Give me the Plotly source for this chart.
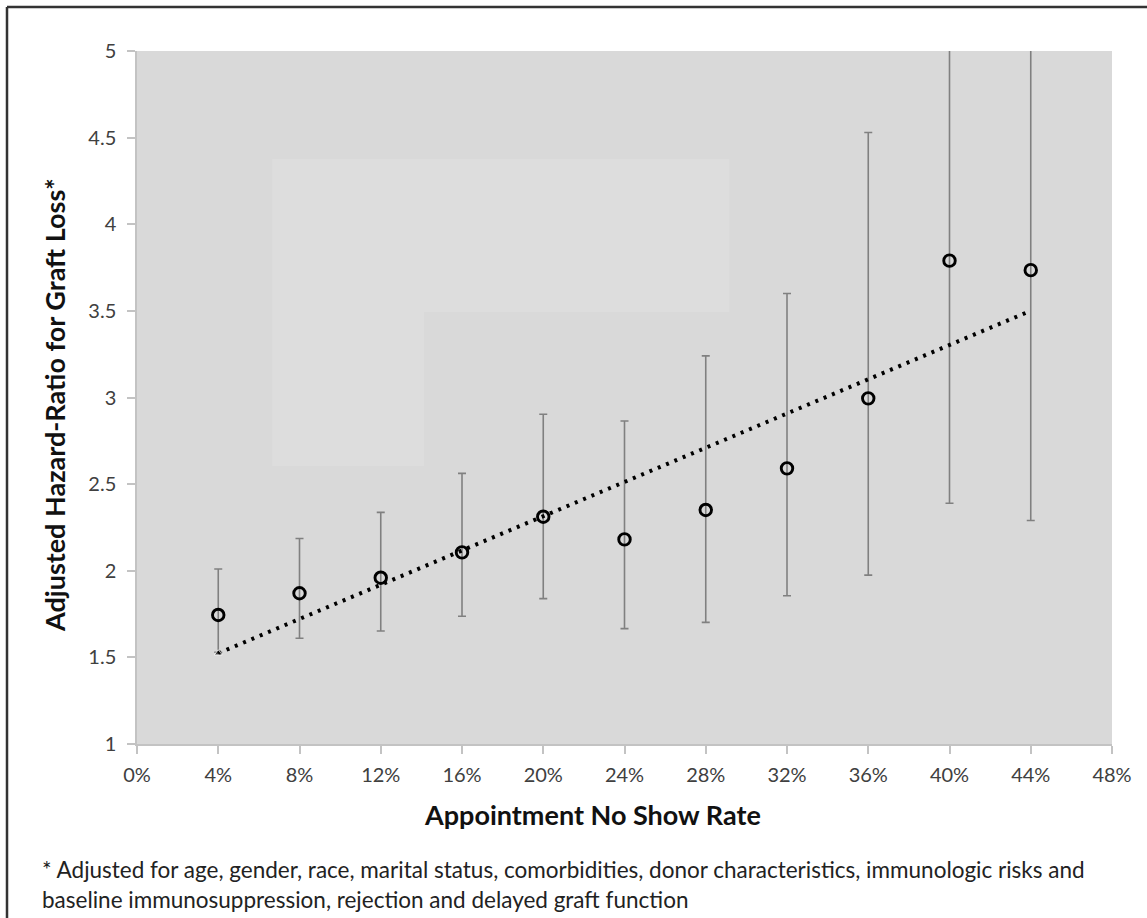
import numpy as np
import plotly.graph_objects as go

# ---- data ----
no_show_rate = [0.04, 0.08, 0.12, 0.16, 0.20, 0.24, 0.28, 0.32, 0.36, 0.40, 0.44]
hazard_ratio = [1.745, 1.870, 1.960, 2.106, 2.312, 2.181, 2.351, 2.591, 2.995, 3.790, 3.735]
ci_upper = [2.010, 2.186, 2.337, 2.562, 2.903, 2.864, 3.240, 3.600, 4.530, 6.000, 6.070]
ci_lower = [1.530, 1.610, 1.652, 1.737, 1.839, 1.666, 1.702, 1.856, 1.975, 2.390, 2.290]
x_tick_vals = [0.00, 0.04, 0.08, 0.12, 0.16, 0.20, 0.24, 0.28, 0.32, 0.36, 0.40, 0.44, 0.48]
y_tick_vals = [1, 1.5, 2, 2.5, 3, 3.5, 4, 4.5, 5]

x_title = "Appointment No Show Rate"
y_title = "Adjusted Hazard-Ratio for Graft Loss*"
footnote_1 = "* Adjusted for age, gender, race, marital status, comorbidities, donor characteristics, immunologic risks and"
footnote_2 = "baseline immunosuppression, rejection and delayed graft function"

# linear trendline (least squares) through the points
slope, intercept = np.polyfit(no_show_rate, hazard_ratio, 1)
trend_x = [no_show_rate[0], no_show_rate[-1]]
trend_y = [slope * v + intercept for v in trend_x]

err_plus = [u - h for u, h in zip(ci_upper, hazard_ratio)]
err_minus = [h - l for h, l in zip(hazard_ratio, ci_lower)]

# ---- layout geometry (pixels) ----
W, H = 1147, 918
L, R, T, B = 137, 35, 51, 174
pw, ph = W - L - R, H - T - B


def px(xp):
    return (xp - L) / pw


def py(yp):
    return (H - B - yp) / ph


fig = go.Figure()

fig.add_trace(go.Scatter(
    x=no_show_rate, y=hazard_ratio, mode="markers",
    marker=dict(symbol="circle-open", size=11.5, color="black", line=dict(width=2.9, color="black")),
    error_y=dict(type="data", symmetric=False, array=err_plus, arrayminus=err_minus,
                 color="#808080", thickness=1.6, width=4),
    showlegend=False, hoverinfo="skip",
))

fig.add_trace(go.Scatter(
    x=trend_x, y=trend_y, mode="lines+markers",
    line=dict(color="black", width=4, dash="3px,6px"),
    marker=dict(symbol="triangle-up", size=[7, 0], color="black"),
    showlegend=False, hoverinfo="skip",
))

axis_col = "#c3c3c3"
tick_font = dict(family="Lato, sans-serif", size=20, color="#404040")

fig.update_xaxes(range=[0, 0.48], tickvals=x_tick_vals, tickformat=".0%",
                 showgrid=False, zeroline=False, showline=True, linecolor=axis_col, linewidth=1.5,
                 ticks="outside", ticklen=8, tickcolor=axis_col, tickwidth=1.5, tickfont=tick_font,
                 ticklabelstandoff=4)
fig.update_yaxes(range=[1, 5], tickvals=y_tick_vals,
                 showgrid=False, zeroline=False, showline=True, linecolor=axis_col, linewidth=1.5,
                 ticks="outside", ticklen=8, tickcolor=axis_col, tickwidth=1.5, tickfont=tick_font,
                 ticklabelstandoff=7)

title_font = dict(family="Lato, sans-serif", size=27, color="#111111")
note_font = dict(family="Lato, sans-serif", size=22.5, color="#222222")

annotations = [
    dict(text="<b>" + x_title + "</b>", x=px(592), y=py(815), xref="paper", yref="paper",
         xanchor="center", yanchor="middle", showarrow=False, font=title_font),
    dict(text="<b>" + y_title + "</b>", x=px(54), y=py(405), xref="paper", yref="paper",
         xanchor="center", yanchor="middle", textangle=-90, showarrow=False, font=title_font),
    dict(text=footnote_1, x=px(40), y=py(869), xref="paper", yref="paper",
         xanchor="left", yanchor="middle", showarrow=False, font=note_font),
    dict(text=footnote_2, x=px(40), y=py(899), xref="paper", yref="paper",
         xanchor="left", yanchor="middle", showarrow=False, font=note_font),
]

shapes = [
    # faint lighter patch in the plot background
    dict(type="path", xref="x", yref="y", layer="below", line=dict(width=0), fillcolor="#dddddd",
         path="M 0.0665 4.377 L 0.2915 4.377 L 0.2915 3.494 L 0.1413 3.494 L 0.1413 2.605 L 0.0665 2.605 Z"),
    # outer frame (left and top edges visible)
    dict(type="line", xref="paper", yref="paper", x0=px(7), x1=px(W + 20), y0=py(7), y1=py(7),
         line=dict(color="#333333", width=2.5)),
    dict(type="line", xref="paper", yref="paper", x0=px(7), x1=px(7), y0=py(7), y1=py(H + 20),
         line=dict(color="#333333", width=2.5)),
]

fig.update_layout(
    width=W, height=H, margin=dict(l=L, r=R, t=T, b=B),
    paper_bgcolor="white", plot_bgcolor="#d9d9d9",
    annotations=annotations, shapes=shapes,
    font=dict(family="Lato, sans-serif"),
)

fig.write_html("out.html", config={"displayModeBar": False},
               post_script="document.body.style.margin='0';document.body.style.overflow='hidden';")
